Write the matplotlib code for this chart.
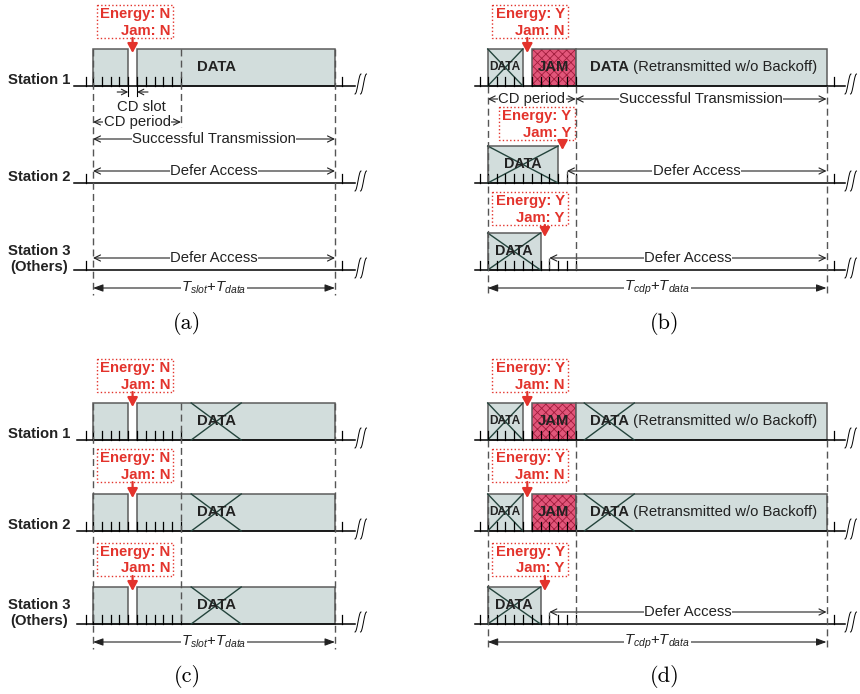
import numpy as np
import matplotlib.pyplot as plt
from matplotlib.patches import Rectangle

plt.rcParams['font.family'] = ['Liberation Sans', 'DejaVu Sans']
plt.rcParams['mathtext.fontset'] = 'custom'
plt.rcParams['mathtext.it'] = 'Liberation Sans:italic'
plt.rcParams['mathtext.rm'] = 'Liberation Sans'
plt.rcParams['hatch.linewidth'] = 0.6

# ---- timing of each case, in CD slots ----
station_labels = ["Station 1", "Station 2", "Station 3\n(Others)"]
cd_slots = 10
end_slot = {'a': 27.5, 'b': 38.5, 'c': 27.5, 'd': 38.5}

# (start slot, end slot, kind)
blocks = {
    'a': [[(0, 4, 'busy'), (5, 27.5, 'data')], [], []],
    'b': [[(0, 4, 'lost'), (5, 10, 'jam'), (10, 38.5, 'retx')],
          [(0, 8, 'lost')],
          [(0, 6, 'lost')]],
    'c': [[(0, 4, 'busy'), (5, 27.5, 'data_x')]] * 3,
    'd': [[(0, 4, 'lost'), (5, 10, 'jam'), (10, 38.5, 'retx_x')]] * 2
         + [[(0, 6, 'lost')]],
}

# energy / jam detection: (slot where sensed, energy, jam)
sense = {
    'a': [(4.5, 'N', 'N'), None, None],
    'b': [(4.5, 'Y', 'N'), (8.5, 'Y', 'Y'), (6.5, 'Y', 'Y')],
    'c': [(4.5, 'N', 'N')] * 3,
    'd': [(4.5, 'Y', 'N'), (4.5, 'Y', 'N'), (6.5, 'Y', 'Y')],
}

# slot at which a station starts deferring
defer = {
    'a': [None, 0, 0],
    'b': [None, 9, 7],
    'c': [None, None, None],
    'd': [None, None, 7],
}

# stations that keep counting CD slots
counting = {
    'a': [True, False, False],
    'b': [True, True, True],
    'c': [True, True, True],
    'd': [True, True, True],
}

total_label = {'a': 'slot', 'b': 'cdp', 'c': 'slot', 'd': 'cdp'}

# ---- drawing style ----
RED = '#e3332c'
FILL = '#d2dddc'
EDGE = '#5c5c5c'
CROSS = '#24443c'
JAM_FILL = '#e2567a'
JAM_HATCH = '#a01c3c'
DASH = '#555555'
FS = 10.7
SLOT = 8.8      # pixels per CD slot
TICK = 9
BLOCK_H = 37

layout = {
    'a': dict(x0=93, rows=[86, 183, 270], line=(74, 355), names=True, cap=(187, 323),
              total_y=288, box_gap=[44, 44, 44]),
    'b': dict(x0=487.7, rows=[86, 183, 270], line=(475, 845), names=False, cap=(665, 323),
              total_y=288, box_gap=[44, 39, 41]),
    'c': dict(x0=93, rows=[440, 531, 624], line=(77, 355), names=True, cap=(187, 677),
              total_y=642, box_gap=[44, 45, 44]),
    'd': dict(x0=487.7, rows=[440, 531, 624], line=(475, 845), names=False, cap=(665, 677),
              total_y=642, box_gap=[44, 45, 44]),
}

fig = plt.figure(figsize=(8.6, 6.94), dpi=100)
ax = fig.add_axes([0, 0, 1, 1])
ax.set_xlim(0, 860)
ax.set_ylim(694, 0)
ax.axis('off')
renderer = fig.canvas.get_renderer()


def dim_arrow(x1, x2, y, label, style='<->', filled=False, mid=None):
    if filled:
        st = '<|-|>,head_length=0.6,head_width=0.22'
    else:
        st = style + ',head_length=0.45,head_width=0.22'
    ax.annotate('', xy=(x2, y), xytext=(x1, y),
                arrowprops=dict(arrowstyle=st, lw=0.8, color='#222222',
                                shrinkA=0, shrinkB=0, mutation_scale=10))
    if label:
        xm = (x1 + x2) / 2 if mid is None else mid
        ax.text(xm, y, label, ha='center', va='center', fontsize=FS, color='#222222',
                bbox=dict(fc='white', ec='none', pad=0.3), zorder=5)


def squiggle(x, y):
    t = np.linspace(0, 1, 30)
    for dx in (3, 8.5):
        ax.plot(x + dx + 3 - 6 * t, y - 2 - 10 * np.cos(np.pi * t), color='k', lw=0.7)


def crossed(x1, x2, top, bottom):
    ax.plot([x1, x2], [top, bottom], color=CROSS, lw=1, zorder=3)
    ax.plot([x1, x2], [bottom, top], color=CROSS, lw=1, zorder=3)


def draw_block(x0, y, s, e, kind):
    xa, xb = x0 + s * SLOT, x0 + e * SLOT
    top = y - BLOCK_H
    if kind == 'jam':
        ax.add_patch(Rectangle((xa, top), xb - xa, BLOCK_H, fc=JAM_FILL, ec=JAM_HATCH,
                               hatch='xxxx', lw=0, zorder=2))
        ax.add_patch(Rectangle((xa, top), xb - xa, BLOCK_H, fill=False, ec=EDGE, lw=1.1, zorder=2))
        ax.text((xa + xb) / 2, y - 19, 'JAM', ha='center', va='center',
                fontsize=FS, fontweight='bold', color='#222222', zorder=4)
        return
    ax.add_patch(Rectangle((xa, top), xb - xa, BLOCK_H, fc=FILL, ec=EDGE, lw=1.1, zorder=2))
    if kind == 'lost':
        crossed(xa, xb, top, y)
        fs = 8.6 if e - s < 5 else 10.4
        ax.text((xa + xb) / 2, y - 19, 'DATA', ha='center', va='center',
                fontsize=fs, fontweight='bold', color='#222222', zorder=4)
    elif kind in ('data', 'data_x'):
        xc = x0 + 14 * SLOT
        ax.text(xc, y - 19, 'DATA', ha='center', va='center',
                fontsize=FS, fontweight='bold', color='#222222', zorder=4)
        if kind == 'data_x':
            crossed(xc - 25, xc + 25, top, y)
    elif kind in ('retx', 'retx_x'):
        xl = x0 + 11.6 * SLOT
        t = ax.text(xl, y - 19, 'DATA', ha='left', va='center',
                    fontsize=FS, fontweight='bold', color='#222222', zorder=4)
        w = t.get_window_extent(renderer).width
        ax.text(xl + w, y - 19, ' (Retransmitted w/o Backoff)', ha='left', va='center',
                fontsize=FS, color='#222222', zorder=4)
        if kind == 'retx_x':
            xc = xl + w / 2
            crossed(xc - 25, xc + 25, top, y)


def draw_sense(x0, y, gap, slot, energy, jam):
    xs = x0 + slot * SLOT
    top = y - BLOCK_H
    right = max(x0 + 9.1 * SLOT, xs + 12)
    btop = top - gap
    bh = 33
    ax.add_patch(Rectangle((right - 76, btop), 76, bh, fill=False, ec=RED, ls=':', lw=1, zorder=4))
    ax.text(right - 3, btop + 9, f'Energy: {energy}', ha='right', va='center',
            fontsize=FS, fontweight='bold', color=RED, zorder=5)
    ax.text(right - 3, btop + 25.5, f'Jam: {jam}', ha='right', va='center',
            fontsize=FS, fontweight='bold', color=RED, zorder=5)
    ax.annotate('', xy=(xs, top + 4), xytext=(xs, btop + bh),
                arrowprops=dict(arrowstyle='-|>,head_length=0.55,head_width=0.3', lw=1.6,
                                color=RED, shrinkA=0, shrinkB=0, mutation_scale=10), zorder=6)


def draw_panel(key):
    L = layout[key]
    x0, rows = L['x0'], L['rows']
    xe = x0 + end_slot[key] * SLOT
    for i, y in enumerate(rows):
        ax.plot(L['line'], [y, y], color='k', lw=1.1, zorder=3)
        squiggle(L['line'][1], y)
        for s, e, kind in blocks[key][i]:
            draw_block(x0, y, s, e, kind)
        ticks = [-0.85, end_slot[key] + 0.85]
        if counting[key][i]:
            ticks += list(range(cd_slots + 1))
        for t in ticks:
            ax.plot([x0 + t * SLOT] * 2, [y, y - TICK], color='k', lw=0.9, zorder=3)
        if sense[key][i]:
            draw_sense(x0, y, L['box_gap'][i], *sense[key][i])
        if defer[key][i] is not None:
            xd = x0 + defer[key][i] * SLOT
            if defer[key][i] > 0:
                ax.plot([xd, xd], [y - 12, y], color=DASH, lw=0.9, ls=(0, (3, 2)), zorder=3)
            dim_arrow(xd, xe, y - 12, 'Defer Access')
        if L['names']:
            name = station_labels[i]
            yy = y - 11 if '\n' in name else y - 6
            ax.text(70, yy, name, ha='right', va='center', multialignment='center',
                    fontsize=FS, fontweight='bold', color='#222222', linespacing=1.25)

    # dashed guides at start, end of frame and end of CD period
    ty = L['total_y']
    top = rows[0] - BLOCK_H if key in ('a', 'c') else rows[0]
    mid_bottom = 127 if key == 'a' else rows[2]
    for xg, yb in ((x0, ty + 7), (xe, ty + 7), (x0 + cd_slots * SLOT, mid_bottom)):
        ax.plot([xg, xg], [top, yb], color=DASH, lw=1, ls=(0, (5, 3)), zorder=4)

    dim_arrow(x0, xe, ty, rf'$T_{{{total_label[key]}}}$+$T_{{data}}$', filled=True)
    ax.text(*L['cap'], f'({key})', ha='center', va='center', fontsize=16, family='cmr10')


for k in 'abcd':
    draw_panel(k)

# CD slot / CD period annotations of case (a)
xa0 = layout['a']['x0']
ax.annotate('', xy=(xa0 + 4 * SLOT, 92), xytext=(xa0 + 4 * SLOT - 11, 92),
            arrowprops=dict(arrowstyle='->,head_length=0.4,head_width=0.2', lw=0.8,
                            color='#222222', shrinkA=0, shrinkB=0, mutation_scale=10))
ax.annotate('', xy=(xa0 + 5 * SLOT, 92), xytext=(xa0 + 5 * SLOT + 11, 92),
            arrowprops=dict(arrowstyle='->,head_length=0.4,head_width=0.2', lw=0.8,
                            color='#222222', shrinkA=0, shrinkB=0, mutation_scale=10))
ax.plot([xa0 + 4 * SLOT] * 2, [86, 96], color='k', lw=0.8)
ax.plot([xa0 + 5 * SLOT] * 2, [86, 96], color='k', lw=0.8)
ax.text(xa0 + 5.5 * SLOT, 107, 'CD slot', ha='center', va='center', fontsize=FS, color='#222222')
dim_arrow(xa0, xa0 + cd_slots * SLOT, 122, 'CD period')
dim_arrow(xa0, xa0 + end_slot['a'] * SLOT, 139, 'Successful Transmission')

xb0 = layout['b']['x0']
dim_arrow(xb0, xb0 + cd_slots * SLOT, 99, 'CD period')
dim_arrow(xb0 + cd_slots * SLOT, xb0 + end_slot['b'] * SLOT, 99, 'Successful Transmission')

fig.savefig('out.png', dpi=100)
